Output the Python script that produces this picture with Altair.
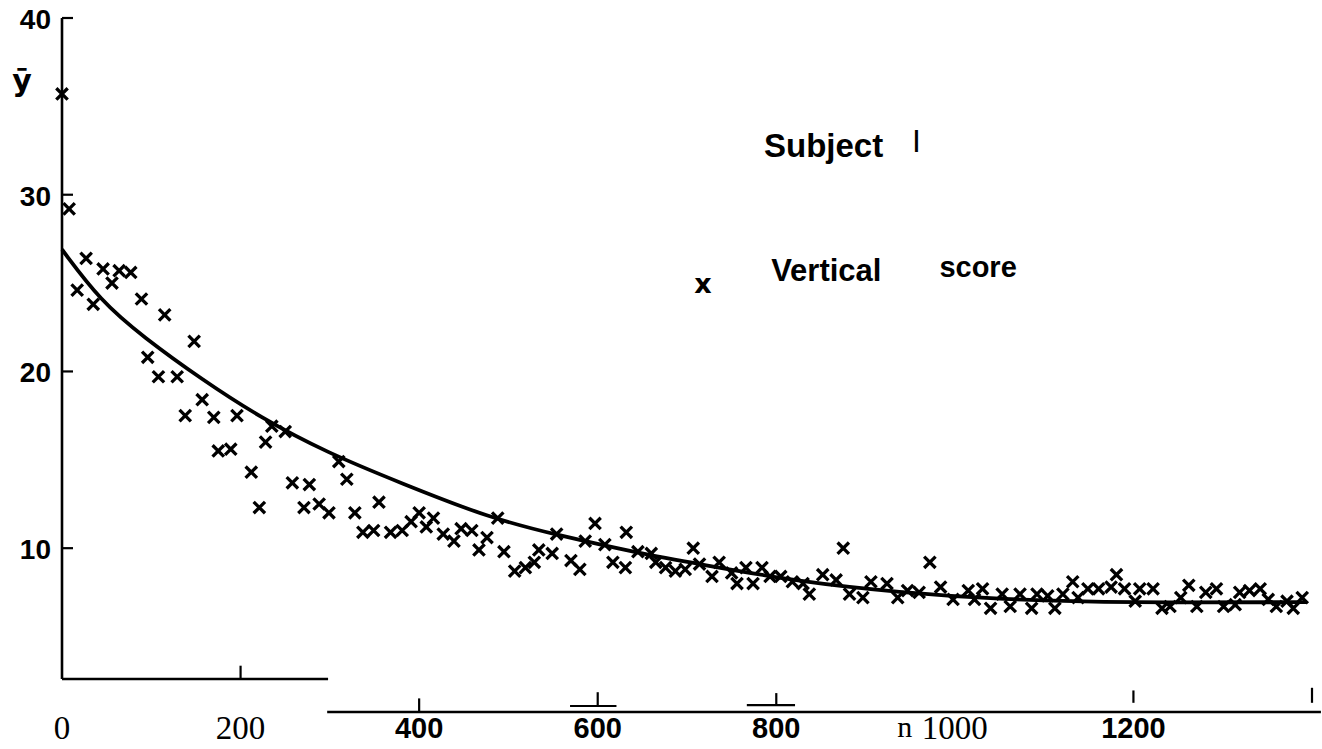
import altair as alt
import pandas as pd

# ---- data: trial number n and mean vertical score y-bar ----
n_vals = [
    0, 8, 27, 46, 64, 77, 56, 17, 35, 89,
    115, 148, 96, 108, 129, 157, 138, 170, 196, 235,
    250, 175, 189, 228, 212, 221, 258, 277, 310, 319,
    271, 288, 299, 328, 355, 337, 349, 368, 381, 391,
    400, 416, 408, 427, 439, 447, 459, 476, 467, 488,
    495, 507, 519, 529, 534, 549, 554, 570, 580, 586,
    597, 608, 617, 631, 632, 645, 660, 665, 676, 687,
    698, 707, 714, 728, 736, 750, 756, 766, 774, 784,
    793, 805, 818, 830, 837, 852, 867, 875, 882, 897,
    906, 924, 936, 947, 960, 972, 984, 998, 1015, 1031,
    1022, 1040, 1053, 1062, 1073, 1086, 1092, 1104, 1112, 1121,
    1132, 1138, 1149, 1161, 1175, 1181, 1190, 1202, 1207, 1222,
    1232, 1241, 1253, 1262, 1271, 1281, 1293, 1301, 1314, 1319,
    1330, 1342, 1351, 1360, 1372, 1379, 1389,
]
y_vals = [
    35.7, 29.2, 26.4, 25.8, 25.7, 25.6, 25.0, 24.6, 23.8, 24.1,
    23.2, 21.7, 20.8, 19.7, 19.7, 18.4, 17.5, 17.4, 17.5, 16.9,
    16.6, 15.5, 15.6, 16.0, 14.3, 12.3, 13.7, 13.6, 14.9, 13.9,
    12.3, 12.5, 12.0, 12.0, 12.6, 10.9, 11.0, 10.9, 11.0, 11.5,
    12.0, 11.7, 11.2, 10.8, 10.4, 11.1, 11.0, 10.6, 9.9, 11.7,
    9.8, 8.7, 8.9, 9.2, 9.9, 9.7, 10.8, 9.3, 8.8, 10.4,
    11.4, 10.2, 9.2, 8.9, 10.9, 9.8, 9.7, 9.2, 8.9, 8.7,
    8.8, 10.0, 9.1, 8.4, 9.2, 8.6, 8.0, 8.9, 8.0, 8.9,
    8.4, 8.4, 8.1, 8.0, 7.4, 8.5, 8.2, 10.0, 7.4, 7.2,
    8.1, 8.0, 7.2, 7.6, 7.5, 9.2, 7.8, 7.1, 7.6, 7.7,
    7.1, 6.6, 7.4, 6.7, 7.4, 6.6, 7.4, 7.3, 6.6, 7.4,
    8.1, 7.2, 7.7, 7.7, 7.8, 8.5, 7.7, 7.0, 7.7, 7.7,
    6.6, 6.7, 7.2, 7.9, 6.7, 7.5, 7.7, 6.7, 6.8, 7.5,
    7.6, 7.7, 7.1, 6.7, 7.0, 6.6, 7.2,
]

# fitted curve, read at points along it
curve_n = [0, 43, 91, 158, 222, 297, 379, 479, 554, 647, 714, 826, 938, 1050, 1193, 1394]
curve_y = [26.9, 24.0, 21.95, 19.5, 17.4, 15.4, 13.7, 11.7, 10.75, 9.7, 9.1, 8.1, 7.5, 7.1, 6.9, 6.95]

# axis tick labels
y_ticks = [40, 30, 20, 10]
x_serif_ticks = [0, 200, 1000]
x_bold_ticks = [400, 600, 800, 1200]

# ---- frame geometry (broken axes of the scanned figure) ----
frame = pd.DataFrame({
    "x0": [0, 0, 297],
    "x1": [0, 298, 1410],
    "y0": [2.6, 2.6, 0.73],
    "y1": [40, 2.6, 0.73],
})
xticks = pd.DataFrame({
    "x0": [200, 400, 600, 800, 1200, 1400, 569, 767],
    "x1": [200, 400, 600, 800, 1200, 1400, 621, 821],
    "y0": [2.6, 0.73, 1.07, 1.12, 1.25, 1.25, 1.07, 1.12],
    "y1": [3.35, 1.5, 1.85, 1.8, 1.95, 2.1, 1.07, 1.12],
})

W, H = 1250, 694
xs = alt.Scale(domain=[0, 1400], nice=False, zero=False)
ys = alt.Scale(domain=[0.73, 40], nice=False, zero=False)

pts = pd.DataFrame({"n": n_vals, "y": y_vals})
crv = pd.DataFrame({"n": curve_n, "y": curve_y})

points = alt.Chart(pts).mark_point(
    shape="M-1,-1L1,1M-1,1L1,-1", size=130, strokeWidth=3.3,
    color="black", filled=False, opacity=1,
).encode(x=alt.X("n:Q", scale=xs, axis=None), y=alt.Y("y:Q", scale=ys, axis=None))

curve = alt.Chart(crv).mark_line(color="black", strokeWidth=3.8, interpolate="basis").encode(
    x=alt.X("n:Q", scale=xs, axis=None), y=alt.Y("y:Q", scale=ys, axis=None)
)

frame_l = alt.Chart(frame).mark_rule(color="black", strokeWidth=2.6).encode(
    x=alt.X("x0:Q", scale=xs, axis=None), x2="x1:Q",
    y=alt.Y("y0:Q", scale=ys, axis=None), y2="y1:Q",
)
xtick_l = alt.Chart(xticks).mark_rule(color="black", strokeWidth=2.2).encode(
    x=alt.X("x0:Q", scale=xs, axis=None), x2="x1:Q",
    y=alt.Y("y0:Q", scale=ys, axis=None), y2="y1:Q",
)
ytick_l = alt.Chart(pd.DataFrame({"v": y_ticks})).mark_rule(color="black", strokeWidth=2.2).encode(
    x=alt.value(0), x2=alt.value(11), y=alt.Y("v:Q", scale=ys, axis=None)
)

ylab = alt.Chart(pd.DataFrame({"v": y_ticks, "t": [str(v) for v in y_ticks]})).mark_text(
    font="Liberation Sans", fontWeight="bold", fontSize=28, align="right", baseline="middle", dy=3,
).encode(x=alt.value(-11), y=alt.Y("v:Q", scale=ys, axis=None), text="t:N")

xlab_serif = alt.Chart(pd.DataFrame({"v": x_serif_ticks, "t": [str(v) for v in x_serif_ticks]})).mark_text(
    font="Liberation Serif", fontSize=33, align="center", baseline="middle",
).encode(x=alt.X("v:Q", scale=xs, axis=None), y=alt.value(711), text="t:N")

xlab_bold = alt.Chart(pd.DataFrame({"v": x_bold_ticks, "t": [str(v) for v in x_bold_ticks]})).mark_text(
    font="Liberation Sans", fontWeight="bold", fontSize=29, align="center", baseline="middle",
).encode(x=alt.X("v:Q", scale=xs, axis=None), y=alt.value(711), text="t:N")

# annotations (positions in data units)
ann_bold = pd.DataFrame({
    "x": [853, 856, 1026],
    "y": [32.7, 25.6, 25.85],
    "t": ["Subject", "Vertical", "score"],
    "s": [33, 31, 29],
})
ann_b = alt.Chart(ann_bold).mark_text(
    font="Liberation Sans", fontWeight="bold", align="center", baseline="middle", color="black"
).encode(
    x=alt.X("x:Q", scale=xs, axis=None), y=alt.Y("y:Q", scale=ys, axis=None), text="t:N",
    size=alt.Size("s:Q", scale=None, legend=None),
)
ann_one = alt.Chart(pd.DataFrame({"x": [957], "y": [33.0], "t": ["I"]})).mark_text(
    font="Liberation Sans", fontSize=32, align="center", baseline="middle"
).encode(x=alt.X("x:Q", scale=xs, axis=None), y=alt.Y("y:Q", scale=ys, axis=None), text="t:N")
ann_x = alt.Chart(pd.DataFrame({"x": [718], "y": [24.9], "t": ["x"]})).mark_text(
    font="DejaVu Sans", fontWeight="bold", fontSize=27, align="center", baseline="middle"
).encode(x=alt.X("x:Q", scale=xs, axis=None), y=alt.Y("y:Q", scale=ys, axis=None), text="t:N")
ann_n = alt.Chart(pd.DataFrame({"x": [944], "t": ["n"]})).mark_text(
    font="Liberation Serif", fontSize=30, align="center", baseline="middle"
).encode(x=alt.X("x:Q", scale=xs, axis=None), y=alt.value(710), text="t:N")
ybar = alt.Chart(pd.DataFrame({"y": [36.4], "t": ["ȳ"]})).mark_text(
    font="DejaVu Sans", fontWeight="bold", fontSize=30, align="center", baseline="middle"
).encode(x=alt.value(-40), y=alt.Y("y:Q", scale=ys, axis=None), text="t:N")

chart = alt.layer(
    frame_l, xtick_l, ytick_l, curve, points,
    ylab, xlab_serif, xlab_bold, ann_b, ann_one, ann_x, ann_n, ybar,
).properties(
    width=W, height=H,
    autosize=alt.AutoSizeParams(type="none"),
    padding={"left": 62, "top": 18, "right": 10, "bottom": 37},
    background="white",
).configure_view(stroke=None)

chart.save("out.html", embed_options={"renderer": "svg", "actions": False})
